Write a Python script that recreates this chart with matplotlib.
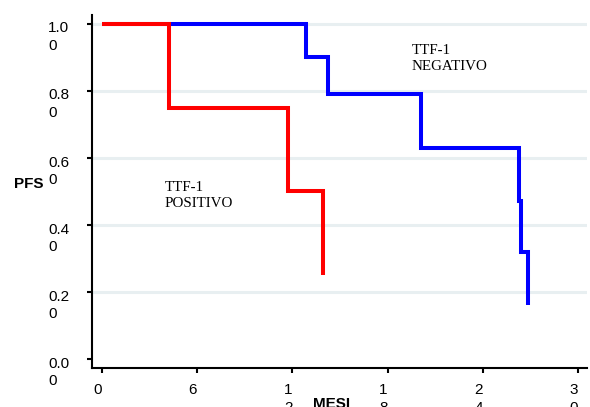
import matplotlib
matplotlib.use("Agg")
import matplotlib.pyplot as plt
from matplotlib.transforms import ScaledTranslation

# Kaplan-Meier PFS estimates (time in months)
pos_months = [0, 4.22, 11.74, 13.93]
pos_pfs = [1.0, 0.75, 0.50, 0.25]

neg_months = [0, 12.85, 14.22, 20.08, 26.29, 26.40, 26.82]
neg_pfs = [1.0, 0.90, 0.79, 0.63, 0.47, 0.32, 0.16]

y_ticks = [0.0, 0.2, 0.4, 0.6, 0.8, 1.0]
y_ticklabels = ["0.0\n0", "0.2\n0", "0.4\n0", "0.6\n0", "0.8\n0", "1.0\n0"]
x_ticks = [0, 6, 12, 18, 24, 30]
x_ticklabels = ["0", "6", "1\n2", "1\n8", "2\n4", "3\n0"]

plt.rcParams["font.family"] = ["Liberation Sans", "DejaVu Sans"]

fig = plt.figure(figsize=(5.9, 4.07), dpi=100)
ax = fig.add_axes([92 / 590, 1 - 368 / 407, (587 - 92) / 590, (368 - 15) / 407])

for y in y_ticks[1:]:
    ax.axhline(y, color="#e8eff1", lw=2.2, zorder=0)

ax.step(neg_months, neg_pfs, where="post", color="#0000ff", lw=2.9,
        solid_capstyle="butt", solid_joinstyle="miter", zorder=2)
ax.step(pos_months, pos_pfs, where="post", color="#ff0000", lw=2.9,
        solid_capstyle="butt", solid_joinstyle="miter", zorder=3)

ax.set_xlim(-0.63, 30.56)
ax.set_ylim(-0.027, 1.026)

for side in ("top", "right"):
    ax.spines[side].set_visible(False)
for side in ("left", "bottom"):
    ax.spines[side].set_linewidth(1.5)

ax.set_yticks(y_ticks)
ax.set_yticklabels(y_ticklabels, fontsize=11, linespacing=1.35)
ax.set_xticks(x_ticks)
ax.set_xticklabels(x_ticklabels, fontsize=11, linespacing=1.38)
ax.tick_params(axis="y", length=3.6, width=1.5, pad=12.9)
ax.tick_params(axis="x", length=3.6, width=1.5, pad=7.2)

# first line of each y label sits on its tick
nudge = ScaledTranslation(0, 2.3 / 100, fig.dpi_scale_trans)
for lbl in ax.get_yticklabels():
    lbl.set_verticalalignment("top")
    lbl.set_multialignment("left")
    lbl.set_transform(lbl.get_transform() + nudge)
for lbl in ax.get_xticklabels():
    lbl.set_horizontalalignment("right")
    lbl.set_multialignment("center")

ax.text(19.5, 0.862, "TTF-1\nNEGATIVO", family="Liberation Serif",
        fontsize=10.8, va="baseline", ha="left", linespacing=1.28)
ax.text(3.97, 0.454, "TTF-1\nPOSITIVO", family="Liberation Serif",
        fontsize=10.8, va="baseline", ha="left", linespacing=1.28)

fig.text(14 / 590, 1 - 183.5 / 407, "PFS", fontsize=11, fontweight="bold",
         ha="left", va="center")
fig.text(332 / 590, 1 - 396.5 / 407, "MESI", fontsize=11, fontweight="bold",
         ha="center", va="top")

fig.savefig("out.png", dpi=100)
